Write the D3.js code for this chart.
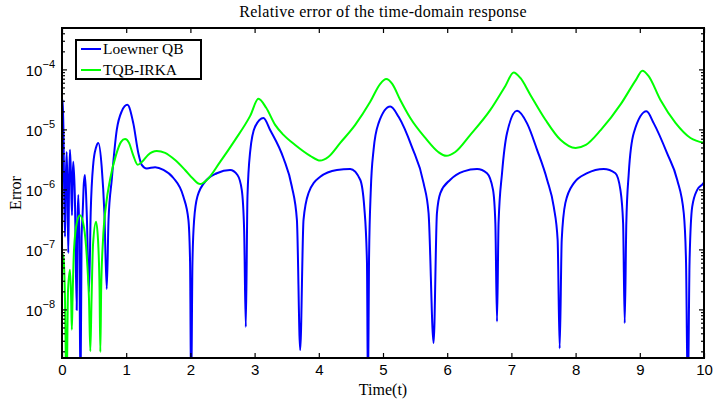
<!DOCTYPE html>
<html>
<head>
<meta charset="utf-8">
<script src="https://cdn.jsdelivr.net/npm/d3@7"></script>
<style>
  html, body { margin: 0; padding: 0; background: #fff; }
  svg { display: block; }
</style>
</head>
<body>
<svg id="chart" width="714" height="401"></svg>
<script>
// ---------- data ----------
const chartTitle = "Relative error of the time-domain response";
const xLabel = "Time(t)";
const yLabel = "Error";
const seriesNames = ["Loewner QB", "TQB-IRKA"];
const seriesColors = ["#0000ff", "#00ff00"];
const xTicks = [0, 1, 2, 3, 4, 5, 6, 7, 8, 9, 10];
const yTickExponents = [-8, -7, -6, -5, -4];

const timeLoewner = [0, 0.015, 0.032, 0.047, 0.06, 0.073, 0.085, 0.098, 0.11, 0.125, 0.14, 0.156, 0.166, 0.176, 0.2, 0.229, 0.24, 0.254, 0.27, 0.288, 0.305, 0.322, 0.34, 0.358, 0.385, 0.421, 0.447, 0.488, 0.53, 0.566, 0.618, 0.66, 0.697, 0.725, 0.775, 0.853, 0.93, 1.018, 1.111, 1.19, 1.242, 1.32, 1.45, 1.58, 1.735, 1.89, 1.969, 1.995, 2.011, 2.032, 2.058, 2.109, 2.256, 2.412, 2.619, 2.733, 2.80, 2.837, 2.863, 2.889, 2.931, 3.009, 3.138, 3.242, 3.45, 3.58, 3.659, 3.71, 3.762, 3.84, 4.022, 4.282, 4.49, 4.645, 4.708, 4.75, 4.766, 4.782, 4.81, 4.853, 4.93, 5.113, 5.243, 5.45, 5.633, 5.71, 5.788, 5.84, 5.893, 6.048, 6.256, 6.465, 6.62, 6.714, 6.75, 6.776, 6.80, 6.854, 6.932, 7.088, 7.244, 7.40, 7.556, 7.66, 7.72, 7.752, 7.784, 7.84, 7.97, 8.18, 8.438, 8.62, 8.698, 8.74, 8.765, 8.79, 8.828, 8.906, 9.104, 9.218, 9.426, 9.582, 9.685, 9.72, 9.748, 9.775, 9.816, 9.894, 9.988, 10];
const errLoewner = [1.78e-5, 3.09e-5, 1.26e-6, 1.62e-7, 1.58e-6, 4.22e-6, 1.0e-6, 8.7e-8, 1.26e-6, 4.57e-6, 1.58e-6, 3.7e-7, 1.58e-6, 2.88e-6, 7.9e-7, 9.8e-9, 2.5e-7, 8.1e-7, 1.58e-7, 3.2e-10, 1.58e-7, 4.1e-7, 1.26e-6, 1.74e-6, 4.1e-7, 1.95e-8, 4.1e-7, 2.75e-6, 5.0e-6, 5.96e-6, 2.4e-6, 4.1e-7, 2.19e-8, 3.16e-7, 1.45e-6, 9.8e-6, 2.0e-5, 2.57e-5, 1.26e-5, 3.98e-6, 2.57e-6, 2.24e-6, 2.34e-6, 2.11e-6, 1.55e-6, 7.6e-7, 3.1e-7, 6.0e-8, 3.2e-10, 6.0e-8, 3.1e-7, 7.6e-7, 1.45e-6, 1.86e-6, 2.11e-6, 1.74e-6, 9.8e-7, 2.11e-7, 5.1e-9, 7.6e-7, 4.27e-6, 1.12e-5, 1.55e-5, 9.8e-6, 3.31e-6, 1.12e-6, 3.1e-7, 2.1e-9, 3.1e-7, 8.7e-7, 1.62e-6, 2.11e-6, 2.19e-6, 1.45e-6, 5.1e-7, 6.3e-8, 3.2e-10, 6.3e-8, 9.8e-7, 4.57e-6, 1.26e-5, 2.4e-5, 1.62e-5, 5.1e-6, 1.26e-6, 4.0e-7, 2.75e-9, 4.0e-7, 8.7e-7, 1.45e-6, 2.0e-6, 2.19e-6, 1.86e-6, 9.8e-7, 2.75e-7, 6.3e-9, 2.75e-7, 1.86e-6, 8.7e-6, 2.04e-5, 1.26e-5, 4.57e-6, 1.45e-6, 5.1e-7, 1.45e-7, 2.24e-9, 1.45e-7, 5.9e-7, 1.26e-6, 1.86e-6, 2.19e-6, 1.86e-6, 9.8e-7, 2.75e-7, 5.9e-9, 2.75e-7, 1.86e-6, 8.7e-6, 2.0e-5, 1.26e-5, 3.98e-6, 1.45e-6, 4.0e-7, 6.3e-8, 3.2e-10, 6.3e-8, 5.1e-7, 9.8e-7, 1.26e-6, 1.32e-6];

const timeTQB = [0, 0.023, 0.047, 0.07, 0.094, 0.125, 0.143, 0.153, 0.164, 0.187, 0.234, 0.281, 0.343, 0.39, 0.421, 0.441, 0.46, 0.483, 0.53, 0.561, 0.585, 0.597, 0.61, 0.639, 0.686, 0.748, 0.842, 0.92, 0.982, 1.044, 1.107, 1.18, 1.247, 1.34, 1.476, 1.606, 1.762, 1.917, 2.042, 2.15, 2.26, 2.463, 2.697, 2.931, 3.06, 3.18, 3.32, 3.45, 3.632, 3.866, 4.022, 4.147, 4.334, 4.567, 4.801, 4.957, 5.05, 5.144, 5.269, 5.425, 5.659, 5.861, 5.986, 6.126, 6.36, 6.672, 6.906, 7.035, 7.14, 7.296, 7.53, 7.764, 8.0, 8.16, 8.394, 8.706, 8.94, 9.04, 9.135, 9.322, 9.556, 9.79, 10];
const errTQB = [8.7e-8, 7.2e-8, 1.45e-8, 3.2e-10, 2.1e-8, 4.6e-8, 1.45e-8, 4.6e-9, 1.45e-8, 9.8e-8, 2.9e-7, 3.7e-7, 2.3e-7, 6.6e-8, 1.45e-8, 2.0e-9, 1.45e-8, 1.19e-7, 2.9e-7, 1.45e-7, 2.1e-8, 1.95e-9, 2.1e-8, 1.45e-7, 5.5e-7, 1.45e-6, 3.76e-6, 6.2e-6, 6.9e-6, 5.96e-6, 3.76e-6, 2.57e-6, 2.88e-6, 3.76e-6, 4.37e-6, 4.07e-6, 3.09e-6, 2.11e-6, 1.5e-6, 1.23e-6, 1.45e-6, 2.88e-6, 6.7e-6, 1.68e-5, 3.24e-5, 2.29e-5, 1.19e-5, 8.1e-6, 5.5e-6, 3.63e-6, 3.02e-6, 3.47e-6, 5.96e-6, 1.19e-5, 2.88e-5, 5.75e-5, 6.9e-5, 5.75e-5, 3.09e-5, 1.55e-5, 7.2e-6, 4.2e-6, 3.63e-6, 4.2e-6, 8.1e-6, 2.11e-5, 5.3e-5, 8.9e-5, 7.2e-5, 3.76e-5, 1.45e-5, 6.7e-6, 4.9e-6, 5.5e-6, 9.8e-6, 2.66e-5, 6.7e-5, 9.5e-5, 7.8e-5, 3.09e-5, 1.29e-5, 7.2e-6, 5.96e-6];

// ---------- layout ----------
const svg = d3.select("#chart");
const pLeft = 62, pRight = 704, pTop = 28, pBottom = 358;
const x = d3.scaleLinear().domain([0, 10]).range([pLeft, pRight]);
const y = d3.scaleLog().domain([Math.pow(10, -8.81), Math.pow(10, -3.31)]).range([pBottom, pTop]);

svg.append("defs").append("clipPath").attr("id", "plotclip")
  .append("rect").attr("x", pLeft).attr("y", pTop).attr("width", pRight - pLeft).attr("height", pBottom - pTop);

const serif = "'Liberation Serif', 'Times New Roman', serif";
const sans = "'Liberation Sans', Arial, Helvetica, sans-serif";

// ---------- curves ----------
const series = [
  { name: seriesNames[0], color: seriesColors[0], t: timeLoewner, v: errLoewner },
  { name: seriesNames[1], color: seriesColors[1], t: timeTQB, v: errTQB }
];
const line = d3.line().x(d => x(d[0])).y(d => y(d[1])).curve(d3.curveMonotoneX);
const plot = svg.append("g").attr("clip-path", "url(#plotclip)");
series.forEach(s => {
  plot.append("path")
    .datum(s.t.map((t, i) => [t, s.v[i]]))
    .attr("fill", "none")
    .attr("stroke", s.color)
    .attr("stroke-width", 2)
    .attr("stroke-linejoin", "round")
    .attr("d", line);
});

// ---------- axes ----------
const axisG = svg.append("g");
const xAxisB = d3.axisBottom(x).tickValues(xTicks).tickSize(-5).tickPadding(6).tickFormat(d3.format("d"));
const gxb = axisG.append("g").attr("transform", `translate(0,${pBottom})`).call(xAxisB);
const xAxisT = d3.axisTop(x).tickValues(xTicks).tickSize(-5).tickFormat("");
axisG.append("g").attr("transform", `translate(0,${pTop})`).call(xAxisT);

const yMajor = yTickExponents.map(e => Math.pow(10, e));
const yMinor = [];
for (let e = -9; e <= -4; e++) {
  for (let m = 2; m <= 9; m++) {
    const v = m * Math.pow(10, e);
    if (v >= y.domain()[0] && v <= y.domain()[1]) yMinor.push(v);
  }
}
const gyl = axisG.append("g").attr("transform", `translate(${pLeft},0)`)
  .call(d3.axisLeft(y).tickValues(yMajor).tickSize(-5).tickFormat(""));
axisG.append("g").attr("transform", `translate(${pLeft},0)`)
  .call(d3.axisLeft(y).tickValues(yMinor).tickSize(-3).tickFormat(""));
axisG.append("g").attr("transform", `translate(${pRight},0)`)
  .call(d3.axisRight(y).tickValues(yMajor).tickSize(-5).tickFormat(""));
axisG.append("g").attr("transform", `translate(${pRight},0)`)
  .call(d3.axisRight(y).tickValues(yMinor).tickSize(-3).tickFormat(""));

axisG.selectAll(".domain").remove();
axisG.selectAll(".tick line").attr("stroke", "#000").attr("stroke-width", 1.2);
gxb.selectAll(".tick text").attr("font-family", sans).attr("font-size", 15).attr("fill", "#000");

gyl.selectAll(".tick").each(function(d) {
  const e = Math.round(Math.log10(d));
  const t = d3.select(this).append("text")
    .attr("x", -7).attr("y", 6)
    .attr("text-anchor", "end")
    .attr("font-family", sans).attr("font-size", 15).attr("fill", "#000");
  t.append("tspan").text("10");
  t.append("tspan").attr("dy", -8).attr("font-size", 11).text("\u2212" + Math.abs(e));
});

svg.append("rect").attr("x", pLeft).attr("y", pTop).attr("width", pRight - pLeft).attr("height", pBottom - pTop)
  .attr("fill", "none").attr("stroke", "#000").attr("stroke-width", 2);

// ---------- texts ----------
svg.append("text").attr("x", (pLeft + pRight) / 2).attr("y", 17).attr("text-anchor", "middle")
  .attr("font-family", serif).attr("font-size", 16).attr("letter-spacing", 0.3).attr("fill", "#000").text(chartTitle);
svg.append("text").attr("x", (pLeft + pRight) / 2).attr("y", 395).attr("text-anchor", "middle")
  .attr("font-family", serif).attr("font-size", 16).attr("fill", "#000").text(xLabel);
svg.append("text").attr("transform", `translate(21,${(pTop + pBottom) / 2}) rotate(-90)`).attr("text-anchor", "middle")
  .attr("font-family", serif).attr("font-size", 16).attr("fill", "#000").text(yLabel);

// ---------- legend ----------
const lg = svg.append("g");
const lgX = 76, lgY = 40, lgW = 125, lgH = 39;
lg.append("rect").attr("x", lgX).attr("y", lgY).attr("width", lgW).attr("height", lgH)
  .attr("fill", "#fff").attr("stroke", "#000").attr("stroke-width", 2);
series.forEach((s, i) => {
  const ry = lgY + 9 + i * 21;
  lg.append("line").attr("x1", lgX + 5).attr("x2", lgX + 25).attr("y1", ry).attr("y2", ry)
    .attr("stroke", s.color).attr("stroke-width", 2);
  lg.append("text").attr("x", lgX + 27).attr("y", ry + 5)
    .attr("font-family", serif).attr("font-size", 15.5).attr("fill", "#000").text(s.name);
});
</script>
</body>
</html>
